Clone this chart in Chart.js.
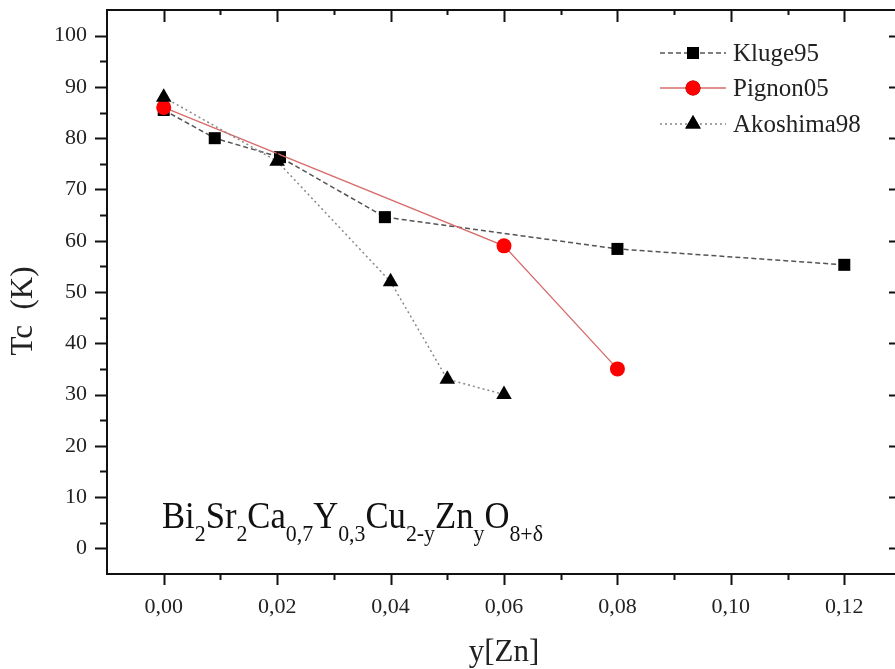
<!DOCTYPE html>
<html>
<head>
<meta charset="utf-8">
<script src="https://cdn.jsdelivr.net/npm/chart.js@4"></script>
<style>
  html, body { margin: 0; padding: 0; background: #fff; overflow: hidden; }
  #wrap { width: 895px; height: 669px; overflow: hidden; position: relative; }
  canvas { display: block; }
</style>
</head>
<body>
<div id="wrap"><canvas id="chart" width="910" height="669"></canvas></div>
<script>
// data
const seriesNames = ['Kluge95', 'Pignon05', 'Akoshima98'];

const xKluge = [0, 0.009, 0.0205, 0.039, 0.08, 0.12];
const yKluge = [85.5, 80, 76.3, 64.6, 58.4, 55.3];

const xPignon = [0, 0.06, 0.08];
const yPignon = [86, 59, 35];

const xAkoshima = [0, 0.02, 0.04, 0.05, 0.06];
const yAkoshima = [88, 75.5, 52, 33, 30];

// axis ticks
const xMajor = [0, 0.02, 0.04, 0.06, 0.08, 0.10, 0.12];
const xMinor = [0.01, 0.03, 0.05, 0.07, 0.09, 0.11];
const yMajor = [0, 10, 20, 30, 40, 50, 60, 70, 80, 90, 100];
const yMinor = [5, 15, 25, 35, 45, 55, 65, 75, 85, 95];

const xTitle = 'y[Zn]';
const yTitle = 'Tc  (K)';
// formula pieces: [text, isSubscript]
const formula = [
  ['Bi', false], ['2', true], ['Sr', false], ['2', true], ['Ca', false], ['0,7', true],
  ['Y', false], ['0,3', true], ['Cu', false], ['2-y', true], ['Zn', false], ['y', true],
  ['O', false], ['8+\u03b4', true]
];

const SERIF = '"Liberation Serif", "Times New Roman", serif';

const toPoints = (xs, ys) => xs.map((x, i) => ({ x: x, y: ys[i] }));

// frame, tick marks, titles, legend and formula
const decorPlugin = {
  id: 'decor',
  afterDraw(chart) {
    const ctx = chart.ctx;
    const a = chart.chartArea;
    const xs = chart.scales.x;
    const ys = chart.scales.y;
    ctx.save();
    ctx.strokeStyle = '#111';
    ctx.lineWidth = 2;
    ctx.strokeRect(a.left, a.top, a.right - a.left, a.bottom - a.top);

    ctx.lineWidth = 2;
    ctx.beginPath();
    yMajor.forEach(v => {
      const p = Math.round(ys.getPixelForValue(v)) + 0.5;
      ctx.moveTo(a.left - 12, p); ctx.lineTo(a.left, p);
      ctx.moveTo(a.right - 12, p); ctx.lineTo(a.right, p);
    });
    yMinor.forEach(v => {
      const p = Math.round(ys.getPixelForValue(v)) + 0.5;
      ctx.moveTo(a.left - 7, p); ctx.lineTo(a.left, p);
      ctx.moveTo(a.right - 5, p); ctx.lineTo(a.right, p);
    });
    xMajor.forEach(v => {
      const p = Math.round(xs.getPixelForValue(v)) + 0.5;
      ctx.moveTo(p, a.bottom); ctx.lineTo(p, a.bottom + 11);
      ctx.moveTo(p, a.top); ctx.lineTo(p, a.top + 12);
    });
    xMinor.forEach(v => {
      const p = Math.round(xs.getPixelForValue(v)) + 0.5;
      ctx.moveTo(p, a.bottom); ctx.lineTo(p, a.bottom + 6);
      ctx.moveTo(p, a.top); ctx.lineTo(p, a.top + 5);
    });
    ctx.stroke();

    // axis titles
    ctx.fillStyle = '#222';
    ctx.font = '31px ' + SERIF;
    ctx.textAlign = 'center';
    ctx.textBaseline = 'middle';
    ctx.fillText(xTitle, (a.left + a.right) / 2, 653);
    ctx.save();
    ctx.translate(24, 311);
    ctx.rotate(-Math.PI / 2);
    ctx.fillText(yTitle, 0, 0);
    ctx.restore();

    // legend
    const rows = [53, 88, 124];
    chart.data.datasets.forEach((ds, i) => {
      const y = rows[i];
      ctx.save();
      ctx.strokeStyle = ds.borderColor;
      ctx.lineWidth = ds.borderWidth;
      ctx.setLineDash(ds.borderDash || []);
      ctx.beginPath();
      ctx.moveTo(660, y); ctx.lineTo(726, y);
      ctx.stroke();
      ctx.restore();
      Chart.helpers.drawPoint(ctx, {
        pointStyle: ds.pointStyle, radius: ds.pointRadius, borderWidth: 0, rotation: 0
      }, 693, y);
      ctx.fillStyle = ds.pointBackgroundColor;
      ctx.fill();
      ctx.fillStyle = '#222';
      ctx.font = '25px ' + SERIF;
      ctx.textAlign = 'left';
      ctx.textBaseline = 'middle';
      ctx.fillText(ds.label, 733, y + 1);
    });

    // formula
    const mainFont = '38px ' + SERIF;
    const subFont = '24px ' + SERIF;
    let total = 0;
    formula.forEach(([t, sub]) => {
      ctx.font = sub ? subFont : mainFont;
      total += ctx.measureText(t).width;
    });
    const sx = 381 / total;
    ctx.save();
    ctx.translate(162, 528);
    ctx.scale(sx, 1);
    ctx.textAlign = 'left';
    ctx.textBaseline = 'alphabetic';
    ctx.fillStyle = '#111';
    let cx = 0;
    formula.forEach(([t, sub]) => {
      ctx.font = sub ? subFont : mainFont;
      ctx.fillText(t, cx, sub ? 13 : 0);
      cx += ctx.measureText(t).width;
    });
    ctx.restore();
    ctx.restore();
  }
};

new Chart(document.getElementById('chart'), {
  type: 'scatter',
  data: {
    datasets: [{
      label: seriesNames[0],
      data: toPoints(xKluge, yKluge),
      showLine: true,
      borderColor: '#555',
      borderWidth: 1.5,
      borderDash: [5, 3],
      pointStyle: 'rect',
      pointRadius: 8.5,
      pointBackgroundColor: '#000',
      pointBorderWidth: 0,
      order: 3
    }, {
      label: seriesNames[1],
      data: toPoints(xPignon, yPignon),
      showLine: true,
      borderColor: '#d86a6a',
      borderWidth: 1.3,
      pointStyle: 'circle',
      pointRadius: 7.5,
      pointBackgroundColor: '#f00',
      pointBorderWidth: 0,
      order: 2
    }, {
      label: seriesNames[2],
      data: toPoints(xAkoshima, yAkoshima),
      showLine: true,
      borderColor: '#888',
      borderWidth: 1.5,
      borderDash: [2, 3],
      pointStyle: 'triangle',
      pointRadius: 9,
      pointBackgroundColor: '#000',
      pointBorderWidth: 0,
      order: 1
    }]
  },
  options: {
    responsive: false,
    animation: false,
    layout: { padding: { top: 10, right: 9, left: 0, bottom: 0 } },
    plugins: { legend: { display: false }, tooltip: { enabled: false } },
    scales: {
      x: {
        type: 'linear',
        min: -0.01,
        max: 0.13,
        grid: { display: false, drawTicks: false },
        border: { display: false },
        afterBuildTicks: s => { s.ticks = xMajor.map(v => ({ value: v })); },
        afterFit: s => { s.height = 95; s.paddingLeft = 0; s.paddingRight = 0; },
        ticks: {
          padding: 20,
          color: '#222',
          font: { family: SERIF, size: 22 },
          callback: v => v.toFixed(2).replace('.', ',')
        }
      },
      y: {
        type: 'linear',
        min: -5,
        max: 105,
        grid: { display: false, drawTicks: false },
        border: { display: false },
        afterBuildTicks: s => { s.ticks = yMajor.map(v => ({ value: v })); },
        afterFit: s => { s.width = 107; s.paddingTop = 0; s.paddingBottom = 0; },
        ticks: {
          padding: 20,
          color: '#222',
          font: { family: SERIF, size: 22 },
          callback: v => String(v)
        }
      }
    }
  },
  plugins: [decorPlugin]
});
</script>
</body>
</html>
